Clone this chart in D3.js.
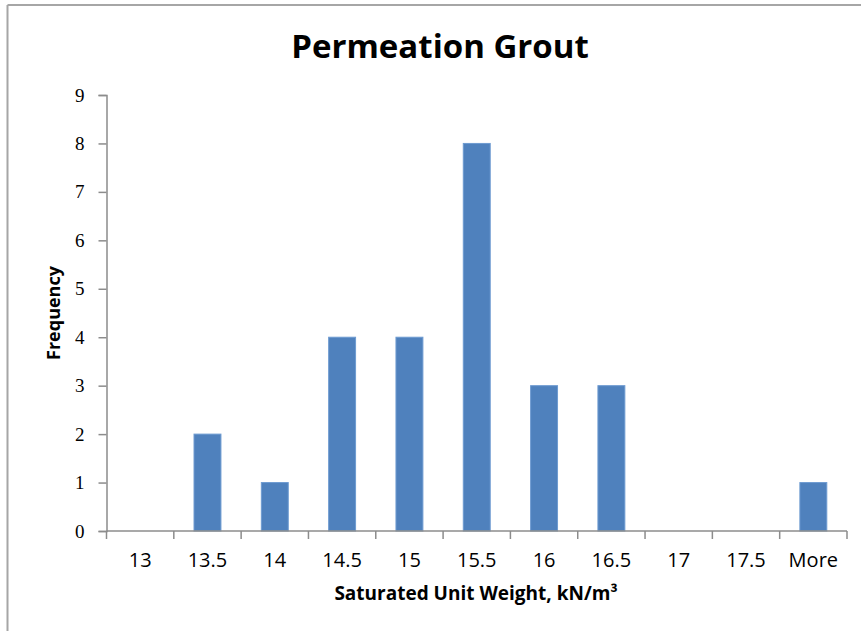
<!DOCTYPE html>
<html>
<head>
<meta charset="utf-8">
<script src="https://cdn.jsdelivr.net/npm/d3@7"></script>
<style>
  html, body { margin: 0; padding: 0; background: #fff; }
  svg { display: block; }
</style>
</head>
<body>
<svg id="chart" width="861" height="631"></svg>
<script>
const categories = ["13", "13.5", "14", "14.5", "15", "15.5", "16", "16.5", "17", "17.5", "More"];
const frequency = [0, 2, 1, 4, 4, 8, 3, 3, 0, 0, 1];
const yTicks = [0, 1, 2, 3, 4, 5, 6, 7, 8, 9];
const titleText = "Permeation Grout";
const xLabel = "Saturated Unit Weight, kN/m\u00B3";
const yLabel = "Frequency";

const svg = d3.select("#chart");
const W = 861, H = 631;
const m = { left: 106.5, right: 14, top: 95, bottom: 100 };
const plotW = W - m.left - m.right;
const plotH = H - m.top - m.bottom;

// outer frame (top and left edges visible)
svg.append("line").attr("x1", 7.5).attr("x2", W).attr("y1", 5).attr("y2", 5)
  .attr("stroke", "#a6a6a6").attr("stroke-width", 2);
svg.append("line").attr("x1", 7.5).attr("x2", 7.5).attr("y1", 5).attr("y2", H)
  .attr("stroke", "#a6a6a6").attr("stroke-width", 2);

const xTickScale = d3.scaleBand().domain(categories).range([0, plotW]);
const y = d3.scaleLinear().domain([0, 9]).range([plotH, 0]);

const g = svg.append("g").attr("transform", `translate(${m.left},${m.top})`);

// bars
g.selectAll("rect.bar").data(categories).enter().append("rect")
  .attr("class", "bar")
  .attr("x", (d) => xTickScale(d) + xTickScale.bandwidth() * 0.3)
  .attr("width", xTickScale.bandwidth() * 0.4)
  .attr("y", (d, i) => y(frequency[i]))
  .attr("height", (d, i) => plotH - y(frequency[i]))
  .attr("fill", "#4f81bd")
  .attr("stroke", "#6e9bd1")
  .attr("stroke-width", 1);

// y axis
const yAxis = g.append("g").call(d3.axisLeft(y).tickValues(yTicks).tickSize(8).tickPadding(14).tickFormat(d3.format("d")));
yAxis.select(".domain").attr("stroke", "#8c8c8c").attr("stroke-width", 1.5);
yAxis.selectAll(".tick line").attr("stroke", "#8c8c8c").attr("stroke-width", 1.5);
yAxis.selectAll(".tick text")
  .attr("font-family", "'Liberation Serif', 'DejaVu Serif', serif")
  .attr("font-size", 19).attr("fill", "#000");

// x axis (ticks at category boundaries)
const xAxisG = g.append("g").attr("transform", `translate(0,${plotH})`);
xAxisG.append("line").attr("x1", 0).attr("x2", plotW).attr("y1", 0).attr("y2", 0)
  .attr("stroke", "#8c8c8c").attr("stroke-width", 1.5);
const boundaries = categories.map((c) => xTickScale(c)).concat([plotW]);
xAxisG.selectAll("line.tk").data(boundaries).enter().append("line")
  .attr("class", "tk")
  .attr("x1", (d) => d).attr("x2", (d) => d).attr("y1", 0).attr("y2", 8)
  .attr("stroke", "#8c8c8c").attr("stroke-width", 1.5);
xAxisG.selectAll("text.tl").data(categories).enter().append("text")
  .attr("class", "tl")
  .attr("x", (d) => xTickScale(d) + xTickScale.bandwidth() / 2)
  .attr("y", 36)
  .attr("text-anchor", "middle")
  .attr("font-family", "'Open Sans', sans-serif")
  .attr("font-size", 20).attr("fill", "#000")
  .text((d) => d);

// title
svg.append("text").attr("x", 440).attr("y", 58).attr("text-anchor", "middle")
  .attr("font-family", "'Open Sans', sans-serif").attr("font-weight", "bold")
  .attr("font-size", 33).attr("fill", "#000").text(titleText);

// x label
svg.append("text").attr("x", 476).attr("y", 600).attr("text-anchor", "middle")
  .attr("font-family", "'Open Sans', sans-serif").attr("font-weight", "bold")
  .attr("font-size", 19).attr("fill", "#000").text(xLabel);

// y label
svg.append("text").attr("transform", "translate(60,313) rotate(-90)").attr("text-anchor", "middle")
  .attr("font-family", "'Open Sans', sans-serif").attr("font-weight", "bold")
  .attr("font-size", 18).attr("fill", "#000").text(yLabel);
</script>
</body>
</html>
